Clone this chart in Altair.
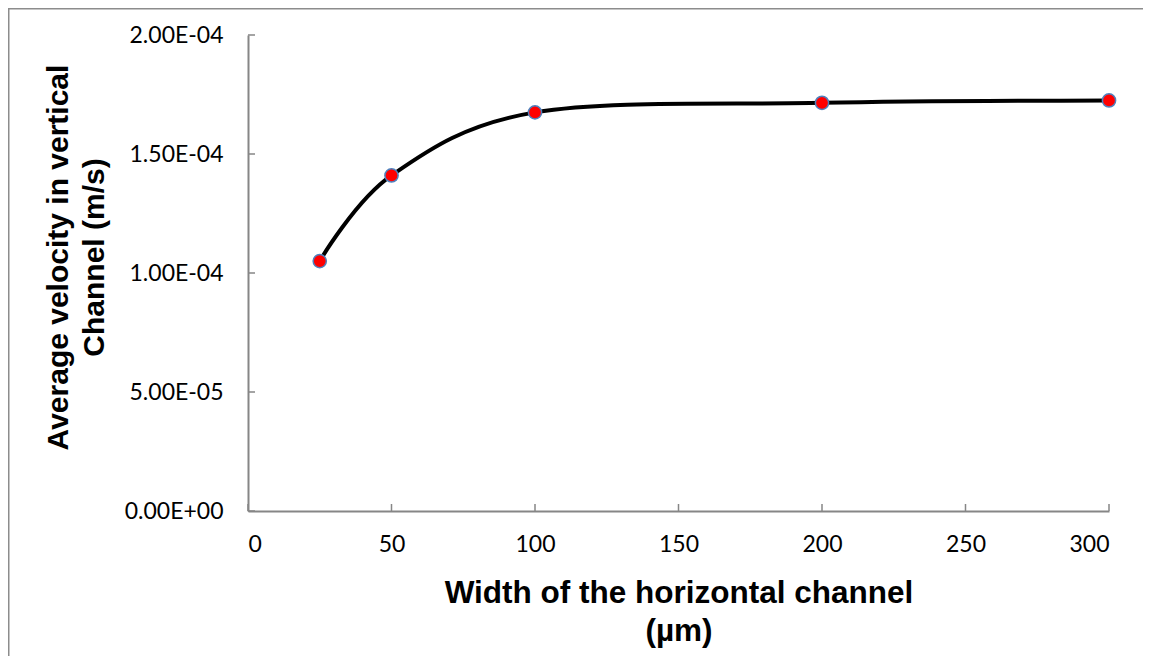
import altair as alt
import pandas as pd

# data
width_um = [25, 50, 100, 200, 300]
velocity = [1.05e-4, 1.41e-4, 1.675e-4, 1.715e-4, 1.725e-4]

x_ticks = [0, 50, 100, 150, 200, 250, 300]
y_ticks = [0.0, 5e-5, 1e-4, 1.5e-4, 2e-4]

df = pd.DataFrame({"w": width_um, "v": velocity})
xt = pd.DataFrame({"t": x_ticks})
yt = pd.DataFrame({"t": y_ticks})

W, H = 861, 476
GRAY = "#868686"

xscale = alt.Scale(domain=[0, 300], nice=False, zero=False)
yscale = alt.Scale(domain=[0, 2e-4], nice=False)

label_expr = "replace(replace(format(datum.value, '.2e'), 'e-', 'E-0'), 'e+', 'E+0')"

x_axis = alt.Axis(
    values=x_ticks, ticks=False, grid=False, domainColor=GRAY, domainWidth=2,
    labelFont="Lato", labelFontSize=23, labelColor="#000000", labelPadding=22,
    title=["Width of the horizontal channel", "(µm)"],
    titleFont="Liberation Sans", titleFontWeight="bold", titleFontSize=31.5,
    titleColor="#000000", titleBaseline="alphabetic", titleY=91, titleLineHeight=38,
)
y_axis = alt.Axis(
    values=y_ticks, ticks=False, grid=False, domainColor=GRAY, domainWidth=2,
    labelFont="Lato", labelFontSize=23, labelColor="#000000", labelPadding=25,
    labelExpr=label_expr,
    title=["Average velocity in vertical", "Channel (m/s)"],
    titleFont="Liberation Sans", titleFontWeight="bold", titleFontSize=30,
    titleColor="#000000", titleBaseline="alphabetic", titleAngle=-90,
    titleX=-181, titleY=222, titleAlign="center", titleLineHeight=36,
)

line = alt.Chart(df).mark_line(
    color="#000000", strokeWidth=4, interpolate="cardinal", tension=0
).encode(
    x=alt.X("w:Q", scale=xscale, axis=x_axis),
    y=alt.Y("v:Q", scale=yscale, axis=y_axis),
)

points = alt.Chart(df).mark_point(
    filled=True, fill="#ff0000", stroke="#4f81bd", strokeWidth=1.5, size=175, opacity=1
).encode(
    x=alt.X("w:Q", scale=xscale),
    y=alt.Y("v:Q", scale=yscale),
)

xtick_rules = alt.Chart(xt).mark_rule(color=GRAY, strokeWidth=1.5).encode(
    x=alt.X("t:Q", scale=xscale),
    y=alt.value(H),
    y2=alt.value(H - 7),
)
ytick_rules = alt.Chart(yt).mark_rule(color=GRAY, strokeWidth=1.5).encode(
    y=alt.Y("t:Q", scale=yscale),
    x=alt.value(0),
    x2=alt.value(7),
)

frame = alt.Data(values=[{}])
border_top = alt.Chart(frame).mark_rule(color="#8c8c8c", strokeWidth=3).encode(
    x=alt.value(-240), x2=alt.value(W + 34), y=alt.value(-27)
)
border_left = alt.Chart(frame).mark_rule(color="#8c8c8c", strokeWidth=3).encode(
    x=alt.value(-240), y=alt.value(-27), y2=alt.value(H + 145)
)

chart = alt.layer(border_top, border_left, xtick_rules, ytick_rules, line, points).properties(
    width=W, height=H,
    autosize=alt.AutoSizeParams(type="none"),
    padding={"left": 240, "top": 27, "right": 34, "bottom": 145},
    background="#ffffff",
).configure_view(stroke=None)

chart.save("out.html", embed_options={"renderer": "svg", "actions": False})
